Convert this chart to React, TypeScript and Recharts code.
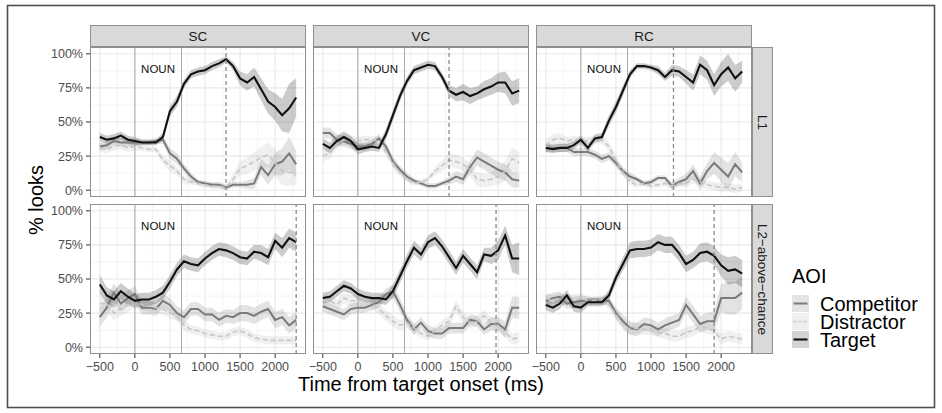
import React from 'react';
import { ComposedChart, XAxis, YAxis, CartesianGrid, Area, Line, ReferenceLine, ReferenceDot } from 'recharts';

// ---------- categories / ticks ----------
const TIMES = [-500, -400, -300, -200, -100, 0, 100, 200, 300, 400, 500, 600, 700, 800, 900, 1000, 1100, 1200, 1300, 1400, 1500, 1600, 1700, 1800, 1900, 2000, 2100, 2200, 2300];
const CONDITIONS = ['SC', 'VC', 'RC'];
const GROUPS = ['L1', 'L2\u2212above\u2212chance'];
const AOIS = ['Competitor', 'Distractor', 'Target'];
const X_TICKS = [-500, 0, 500, 1000, 1500, 2000];
const X_MINOR = [-250, 250, 750, 1250, 1750, 2250];
const Y_TICKS = [0, 25, 50, 75, 100];
const Y_MINOR = [12.5, 37.5, 62.5, 87.5];
const ONSET_MS = 0;
const NOUN_END_MS = 665;
const DASHED_L1 = [1300, 1300, 1320];
const DASHED_L2 = [2300, 1970, 1900];
const NOUN_LABEL = 'NOUN';
const NOUN_X = 330;
const NOUN_Y = 89;

// ---------- series values (% looks) ----------
// SC / L1
const sc_l1_cmp = [32, 33, 36, 35, 35, 35, 35, 35, 36, 37, 27, 23, 16, 10, 6, 5, 4, 4, 2, 4, 4, 4, 5, 17, 11, 19, 21, 27, 19];
const sc_l1_dst = [31, 30, 32, 33, 31, 32, 31, 30, 30, 22, 18, 14, 8, 6, 5, 4, 3, 3, 2, 8, 16, 18, 21, 24, 26, 20, 14, 13, 13];
const sc_l1_tgt = [39, 37, 38, 40, 37, 36, 35, 35, 35, 39, 58, 65, 78, 85, 87, 88, 91, 93, 96, 91, 82, 79, 83, 74, 65, 61, 55, 60, 68];
const sc_l1_cmp_se = [3, 3, 3, 3, 3, 3, 2, 2, 2, 3, 4, 4, 3, 3, 2, 2, 2, 2, 2, 2, 2, 3, 4, 6, 7, 8, 10, 12, 10];
const sc_l1_dst_se = [3, 3, 3, 3, 3, 3, 2, 2, 2, 3, 4, 3, 3, 2, 2, 2, 2, 2, 2, 4, 5, 6, 7, 8, 9, 10, 10, 10, 9];
const sc_l1_tgt_se = [3, 3, 3, 3, 3, 3, 2, 2, 2, 3, 4, 4, 3, 3, 3, 3, 3, 3, 2, 3, 5, 6, 7, 8, 9, 10, 12, 18, 14];
// VC / L1
const vc_l1_cmp = [42, 42, 37, 36, 34, 32, 32, 34, 38, 32, 21, 15, 10, 7, 5, 3, 3, 5, 7, 10, 8, 17, 24, 21, 18, 15, 13, 8, 7];
const vc_l1_dst = [25, 27, 34, 37, 37, 36, 37, 37, 36, 28, 20, 13, 8, 5, 6, 8, 14, 18, 22, 21, 19, 15, 8, 7, 8, 10, 14, 23, 20];
const vc_l1_tgt = [34, 31, 36, 39, 36, 30, 31, 32, 31, 41, 55, 69, 80, 88, 90, 92, 91, 83, 73, 70, 72, 69, 71, 74, 76, 79, 79, 71, 73];
const vc_l1_cmp_se = [4, 4, 4, 4, 4, 3, 3, 3, 3, 3, 4, 3, 3, 2, 2, 2, 2, 2, 3, 4, 4, 5, 6, 6, 6, 6, 6, 6, 5];
const vc_l1_dst_se = [4, 4, 4, 4, 3, 3, 3, 3, 3, 3, 3, 3, 2, 2, 2, 2, 3, 4, 5, 5, 5, 5, 5, 5, 5, 6, 7, 8, 8];
const vc_l1_tgt_se = [4, 4, 4, 4, 4, 4, 3, 3, 3, 4, 4, 4, 3, 3, 3, 3, 3, 3, 4, 5, 6, 6, 5, 6, 6, 7, 8, 9, 9];
// RC / L1
const rc_l1_cmp = [31, 31, 31, 31, 28, 28, 28, 26, 23, 25, 20, 14, 10, 8, 5, 6, 9, 9, 3, 6, 8, 14, 5, 14, 20, 15, 10, 19, 13];
const rc_l1_dst = [33, 37, 38, 36, 37, 37, 36, 37, 37, 32, 22, 13, 6, 4, 5, 3, 4, 5, 3, 5, 5, 8, 6, 4, 3, 2, 2, 1, 2];
const rc_l1_tgt = [31, 30, 31, 31, 33, 37, 31, 38, 39, 51, 61, 73, 85, 91, 91, 90, 88, 83, 88, 87, 83, 79, 92, 88, 77, 85, 90, 82, 87];
const rc_l1_cmp_se = [3, 3, 3, 3, 3, 3, 3, 3, 3, 3, 3, 3, 3, 2, 2, 2, 2, 2, 3, 3, 4, 5, 5, 6, 8, 9, 10, 9, 7];
const rc_l1_dst_se = [4, 4, 4, 3, 3, 3, 3, 3, 3, 3, 4, 3, 2, 2, 2, 2, 2, 2, 2, 2, 3, 3, 3, 3, 3, 3, 3, 3, 3];
const rc_l1_tgt_se = [3, 3, 3, 3, 3, 3, 3, 3, 3, 4, 4, 4, 3, 2, 2, 2, 3, 3, 4, 4, 5, 6, 7, 7, 8, 9, 10, 10, 8];
// SC / L2
const sc_l2_cmp = [22, 29, 40, 32, 36, 39, 29, 29, 28, 34, 31, 25, 22, 28, 28, 24, 24, 20, 23, 22, 25, 25, 23, 26, 28, 20, 22, 16, 20];
const sc_l2_dst = [32, 32, 25, 28, 31, 34, 31, 30, 29, 28, 25, 23, 16, 13, 12, 10, 9, 8, 8, 11, 12, 10, 7, 6, 5, 5, 5, 5, 5];
const sc_l2_tgt = [46, 38, 35, 41, 37, 34, 35, 35, 37, 40, 48, 57, 63, 61, 60, 65, 69, 72, 71, 69, 66, 65, 70, 69, 66, 78, 73, 80, 77];
const sc_l2_cmp_se = [7, 7, 7, 6, 6, 6, 5, 5, 5, 5, 5, 5, 5, 5, 5, 5, 5, 5, 5, 5, 6, 6, 6, 6, 6, 6, 6, 6, 6];
const sc_l2_dst_se = [5, 5, 5, 5, 5, 5, 4, 4, 4, 4, 4, 4, 4, 3, 3, 3, 3, 3, 3, 3, 3, 3, 3, 3, 3, 3, 3, 3, 3];
const sc_l2_tgt_se = [7, 6, 6, 6, 6, 5, 5, 5, 5, 5, 5, 5, 5, 5, 5, 5, 5, 5, 5, 5, 5, 5, 5, 6, 6, 6, 7, 7, 7];
// VC / L2
const vc_l2_cmp = [30, 28, 26, 24, 28, 29, 29, 31, 33, 39, 41, 31, 20, 13, 18, 12, 10, 10, 14, 14, 14, 20, 19, 13, 17, 17, 13, 29, 29];
const vc_l2_dst = [34, 34, 31, 36, 34, 34, 34, 32, 28, 23, 19, 16, 18, 14, 10, 8, 12, 16, 19, 30, 22, 18, 19, 23, 18, 16, 11, 6, 7];
const vc_l2_tgt = [36, 37, 41, 45, 43, 39, 37, 36, 36, 35, 41, 52, 63, 73, 68, 77, 80, 74, 66, 58, 67, 61, 55, 68, 67, 71, 82, 65, 65];
const vc_l2_cmp_se = [4, 4, 4, 4, 4, 4, 4, 4, 4, 4, 5, 5, 4, 4, 4, 4, 4, 4, 4, 4, 4, 4, 4, 4, 5, 5, 6, 8, 8];
const vc_l2_dst_se = [4, 4, 4, 4, 4, 4, 4, 4, 4, 4, 4, 4, 4, 4, 3, 3, 3, 4, 4, 5, 4, 4, 4, 4, 4, 4, 4, 4, 4];
const vc_l2_tgt_se = [4, 4, 4, 4, 4, 4, 4, 4, 4, 4, 5, 5, 5, 5, 5, 5, 5, 5, 5, 5, 5, 5, 5, 5, 6, 7, 7, 10, 12];
// RC / L2
const rc_l2_cmp = [34, 36, 37, 32, 33, 34, 34, 34, 34, 34, 25, 19, 14, 13, 17, 16, 13, 16, 18, 20, 31, 24, 17, 19, 19, 36, 36, 36, 40];
const rc_l2_dst = [36, 34, 36, 34, 35, 36, 34, 34, 35, 31, 24, 17, 13, 14, 13, 13, 11, 10, 8, 8, 11, 12, 15, 14, 12, 6, 8, 7, 6];
const rc_l2_tgt = [31, 29, 32, 38, 30, 29, 33, 33, 33, 38, 51, 61, 71, 72, 72, 73, 77, 75, 75, 69, 61, 64, 69, 70, 67, 60, 56, 57, 54];
const rc_l2_cmp_se = [4, 4, 4, 4, 4, 4, 3, 3, 3, 3, 4, 5, 5, 5, 5, 5, 5, 5, 5, 5, 6, 6, 6, 6, 7, 10, 12, 12, 12];
const rc_l2_dst_se = [4, 4, 4, 4, 4, 4, 3, 3, 3, 3, 4, 4, 4, 4, 4, 4, 4, 4, 4, 4, 4, 4, 4, 4, 4, 4, 4, 4, 4];
const rc_l2_tgt_se = [4, 4, 4, 4, 4, 4, 3, 3, 3, 4, 4, 5, 6, 6, 6, 6, 6, 6, 6, 6, 6, 6, 7, 7, 7, 8, 10, 10, 10];

const PANELS = [
  [
    { cmp: sc_l1_cmp, dst: sc_l1_dst, tgt: sc_l1_tgt, cmpSe: sc_l1_cmp_se, dstSe: sc_l1_dst_se, tgtSe: sc_l1_tgt_se },
    { cmp: vc_l1_cmp, dst: vc_l1_dst, tgt: vc_l1_tgt, cmpSe: vc_l1_cmp_se, dstSe: vc_l1_dst_se, tgtSe: vc_l1_tgt_se },
    { cmp: rc_l1_cmp, dst: rc_l1_dst, tgt: rc_l1_tgt, cmpSe: rc_l1_cmp_se, dstSe: rc_l1_dst_se, tgtSe: rc_l1_tgt_se },
  ],
  [
    { cmp: sc_l2_cmp, dst: sc_l2_dst, tgt: sc_l2_tgt, cmpSe: sc_l2_cmp_se, dstSe: sc_l2_dst_se, tgtSe: sc_l2_tgt_se },
    { cmp: vc_l2_cmp, dst: vc_l2_dst, tgt: vc_l2_tgt, cmpSe: vc_l2_cmp_se, dstSe: vc_l2_dst_se, tgtSe: vc_l2_tgt_se },
    { cmp: rc_l2_cmp, dst: rc_l2_dst, tgt: rc_l2_tgt, cmpSe: rc_l2_cmp_se, dstSe: rc_l2_dst_se, tgtSe: rc_l2_tgt_se },
  ],
];

// ---------- layout / style ----------
const FONT = '"Liberation Sans", Arial, Helvetica, sans-serif';
const COL_LEFT = [90, 313, 536];
const ROW_TOP = [47, 204];
const PW = 216;
const PH = 150;
const STRIP_TOP = 25;
const STRIP_H = 22;
const RSTRIP_LEFT = 752;
const RSTRIP_W = 21;
const Y_AXIS_W = 50;
const X_AXIS_H = 30;
const SIDE_PAD = 20;

const LINE_COLORS = ['#7a7a7a', '#c6c6c6', '#111111'];
const LINE_WIDTHS = [2, 1.6, 2.1];
const LINE_DASH = [undefined, '5 3', undefined];
const RIBBON_FILL = ['#444444', '#888888', '#000000'];
const RIBBON_OP = [0.15, 0.13, 0.2];
const KEY_FILL = ['#e4e4e4', '#efefef', '#d3d3d3'];

const fmtX = (v: number) => (v < 0 ? '\u2212' + Math.abs(v) : String(v));
const fmtY = (v: number) => `${v}%`;

function Panel({ gi, ci }: { gi: number; ci: number }) {
  const s = PANELS[gi][ci];
  const showY = ci === 0;
  const showX = gi === 1;
  const yw = showY ? Y_AXIS_W : 0;
  const xh = showX ? X_AXIS_H : 0;
  const rows = TIMES.map((t, i) => ({
    t,
    cmp: s.cmp[i],
    dst: s.dst[i],
    tgt: s.tgt[i],
    cmpR: [s.cmp[i] - s.cmpSe[i], s.cmp[i] + s.cmpSe[i]],
    dstR: [s.dst[i] - s.dstSe[i], s.dst[i] + s.dstSe[i]],
    tgtR: [s.tgt[i] - s.tgtSe[i], s.tgt[i] + s.tgtSe[i]],
  }));
  const dashed = gi === 0 ? DASHED_L1[ci] : DASHED_L2[ci];
  const keys = ['cmp', 'dst', 'tgt'];
  return (
    <>
      <div style={{ position: 'absolute', left: COL_LEFT[ci] - yw - SIDE_PAD, top: ROW_TOP[gi] }}>
        <ComposedChart
          width={PW + yw + 2 * SIDE_PAD}
          height={PH + xh}
          data={rows}
          margin={{ top: 0, right: SIDE_PAD, bottom: 0, left: SIDE_PAD }}
        >
          <CartesianGrid verticalValues={X_MINOR} horizontalValues={Y_MINOR} stroke="#efefef" strokeWidth={0.7} fill="#ffffff" />
          <CartesianGrid verticalValues={X_TICKS} horizontalValues={Y_TICKS} stroke="#e8e8e8" strokeWidth={1.1} />
          <XAxis
            dataKey="t"
            type="number"
            domain={[-640, 2440]}
            ticks={X_TICKS}
            interval={0}
            allowDataOverflow
            hide={!showX}
            height={X_AXIS_H}
            axisLine={false}
            tickSize={4}
            tickMargin={4}
            tickLine={{ stroke: '#333333' }}
            tick={{ fill: '#4d4d4d', fontSize: 12.5, fontFamily: FONT }}
            tickFormatter={fmtX}
          />
          <YAxis
            type="number"
            domain={[-5, 105]}
            ticks={Y_TICKS}
            interval={0}
            allowDataOverflow
            hide={!showY}
            width={Y_AXIS_W}
            axisLine={false}
            tickSize={4}
            tickMargin={3}
            tickLine={{ stroke: '#333333' }}
            tick={{ fill: '#4d4d4d', fontSize: 12.5, fontFamily: FONT }}
            tickFormatter={fmtY}
          />
          <ReferenceLine x={ONSET_MS} stroke="#a8a8a8" strokeWidth={1} />
          <ReferenceLine x={NOUN_END_MS} stroke="#a8a8a8" strokeWidth={1} />
          {keys.map((k, i) => (
            <Area
              key={k + 'R'}
              type="linear"
              dataKey={k + 'R'}
              stroke="none"
              fill={RIBBON_FILL[i]}
              fillOpacity={RIBBON_OP[i]}
              dot={false}
              activeDot={false}
              isAnimationActive={false}
            />
          ))}
          {keys.map((k, i) => (
            <Line
              key={k}
              type="linear"
              dataKey={k}
              stroke={LINE_COLORS[i]}
              strokeWidth={LINE_WIDTHS[i]}
              strokeDasharray={LINE_DASH[i]}
              dot={false}
              activeDot={false}
              isAnimationActive={false}
            />
          ))}
          <ReferenceLine x={dashed} stroke="#8a8a8a" strokeWidth={1.3} strokeDasharray="4 3" />
          <ReferenceDot
            x={NOUN_X}
            y={NOUN_Y}
            r={0}
            fill="none"
            stroke="none"
            label={{ value: NOUN_LABEL, position: 'center', fill: '#111111', fontSize: 11.5, fontFamily: FONT }}
          />
        </ComposedChart>
      </div>
      <div
        style={{
          position: 'absolute',
          left: COL_LEFT[ci],
          top: ROW_TOP[gi],
          width: PW,
          height: PH,
          border: '1px solid #8f8f8f',
          boxSizing: 'border-box',
          pointerEvents: 'none',
        }}
      />
    </>
  );
}

export default function App() {
  return (
    <div style={{ position: 'absolute', left: 0, top: 0, width: 942, height: 413, background: '#ffffff', fontFamily: FONT, overflow: 'hidden' }}>
      {GROUPS.map((g, gi) => CONDITIONS.map((c, ci) => <Panel key={g + c} gi={gi} ci={ci} />))}
      {CONDITIONS.map((c, ci) => (
        <div
          key={c}
          style={{
            position: 'absolute',
            left: COL_LEFT[ci],
            top: STRIP_TOP,
            width: PW,
            height: STRIP_H,
            background: '#d9d9d9',
            border: '1px solid #8f8f8f',
            boxSizing: 'border-box',
            display: 'flex',
            alignItems: 'center',
            justifyContent: 'center',
            fontSize: 13.5,
            color: '#1a1a1a',
          }}
        >
          {c}
        </div>
      ))}
      {GROUPS.map((g, gi) => (
        <div
          key={g}
          style={{
            position: 'absolute',
            left: RSTRIP_LEFT,
            top: ROW_TOP[gi],
            width: RSTRIP_W,
            height: PH,
            background: '#d9d9d9',
            border: '1px solid #8f8f8f',
            boxSizing: 'border-box',
            display: 'flex',
            alignItems: 'center',
            justifyContent: 'center',
            fontSize: 13.5,
            color: '#1a1a1a',
          }}
        >
          <span style={{ transform: 'rotate(90deg)', whiteSpace: 'nowrap', display: 'inline-block' }}>{g}</span>
        </div>
      ))}
      <svg width={942} height={413} style={{ position: 'absolute', left: 0, top: 0, pointerEvents: 'none' }}>
        <rect x={7.5} y={5.5} width={927} height={402} fill="none" stroke="#505050" strokeWidth={1.6} />
        <text x={421} y={391} textAnchor="middle" fontSize={20} fill="#000" fontFamily={FONT}>
          Time from target onset (ms)
        </text>
        <text transform="translate(43,200) rotate(-90)" textAnchor="middle" fontSize={20} fill="#000" fontFamily={FONT}>
          % looks
        </text>
        <text x={792} y={283} fontSize={20} fill="#000" fontFamily={FONT}>
          AOI
        </text>
        {AOIS.map((a, i) => {
          const top = 295 + i * 18;
          return (
            <g key={a}>
              <rect x={792} y={top} width={17} height={17} fill={KEY_FILL[i]} />
              <line
                x1={793.5}
                x2={807.5}
                y1={top + 8.5}
                y2={top + 8.5}
                stroke={LINE_COLORS[i]}
                strokeWidth={LINE_WIDTHS[i]}
                strokeDasharray={i === 1 ? '3 2' : undefined}
              />
              <text x={820} y={top + 16} fontSize={20} fill="#000" fontFamily={FONT}>
                {a}
              </text>
            </g>
          );
        })}
      </svg>
    </div>
  );
}
